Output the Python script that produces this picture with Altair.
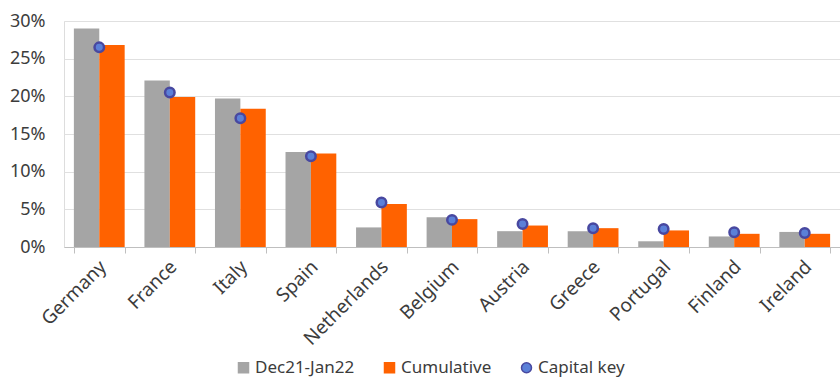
import altair as alt
import pandas as pd

countries = ["Germany", "France", "Italy", "Spain", "Netherlands", "Belgium",
             "Austria", "Greece", "Portugal", "Finland", "Ireland"]
dec_jan = [0.290, 0.221, 0.197, 0.126, 0.026, 0.0395, 0.021, 0.021, 0.0076, 0.014, 0.020]
cumulative = [0.268, 0.199, 0.1835, 0.124, 0.057, 0.037, 0.0285, 0.025, 0.022, 0.0175, 0.0175]
capital_key = [0.265, 0.205, 0.171, 0.1205, 0.059, 0.036, 0.0305, 0.025, 0.024, 0.0195, 0.0186]
series = ["Dec21-Jan22", "Cumulative", "Capital key"]
y_ticks = [0, 0.05, 0.1, 0.15, 0.2, 0.25, 0.3]

bars = pd.DataFrame(
    [{"country": c, "series": series[0], "value": v} for c, v in zip(countries, dec_jan)]
    + [{"country": c, "series": series[1], "value": v} for c, v in zip(countries, cumulative)]
)
points = pd.DataFrame({"country": countries, "series": series[2], "value": capital_key})

FONT = "Noto Sans"
TXT = "#3c3c3c"

color_scale = alt.Scale(domain=series, range=["#a5a5a5", "#ff6200", "#5b80d8"])
stroke_scale = alt.Scale(domain=series, range=["#a5a5a5", "#ff6200", "#4848a0"])
shape_scale = alt.Scale(domain=series, range=["square", "square", "circle"])

x_enc = alt.X("country:N", sort=countries, title=None,
              scale=alt.Scale(paddingInner=0.28, paddingOuter=0.14),
              axis=alt.Axis(labelAngle=-45, labelFontSize=19, labelColor=TXT, labelFont=FONT,
                            domainColor="#bfbfbf", tickColor="#bfbfbf", tickSize=6,
                            tickBand="extent", tickOffset=-10, labelOffset=-3,
                            labelPadding=4, grid=False, labelOverlap=False))
y_enc = alt.Y("value:Q", title=None,
              scale=alt.Scale(domain=[0, 0.3]),
              axis=alt.Axis(format=".0%", values=y_ticks,
                            domain=False, ticks=False, labelPadding=19, labelOverlap=False,
                            labelFontSize=18, labelColor=TXT, labelFont=FONT,
                            gridColor="#e0e0e0", gridWidth=1))

legend = alt.Legend(title=None, orient="none", direction="horizontal", legendX=171, legendY=338,
                    labelFontSize=17, labelColor=TXT, labelFont=FONT, columnPadding=26,
                    labelOffset=3, symbolSize=100, symbolStrokeWidth=1.5)

bar_layer = alt.Chart(bars).mark_bar().encode(
    x=x_enc,
    y=y_enc,
    xOffset=alt.XOffset("series:N", sort=series[:2], scale=alt.Scale(domain=series[:2], paddingInner=0)),
    color=alt.Color("series:N", scale=color_scale, legend=legend),
)

point_layer = alt.Chart(points).mark_point(filled=True, size=90, strokeWidth=2.5, opacity=1).encode(
    x=x_enc,
    y=y_enc,
    color=alt.Color("series:N", scale=color_scale, legend=legend),
    stroke=alt.Stroke("series:N", scale=stroke_scale, legend=legend),
    shape=alt.Shape("series:N", scale=shape_scale, legend=legend),
)

chart = alt.layer(bar_layer, point_layer).properties(
    width=776, height=226,
    autosize=alt.AutoSizeParams(type="none"),
    padding={"left": 64, "top": 21, "right": 0, "bottom": 134},
).configure_view(stroke=None).configure(background="white")

chart.save("out.html", embed_options={"renderer": "svg", "actions": False})
